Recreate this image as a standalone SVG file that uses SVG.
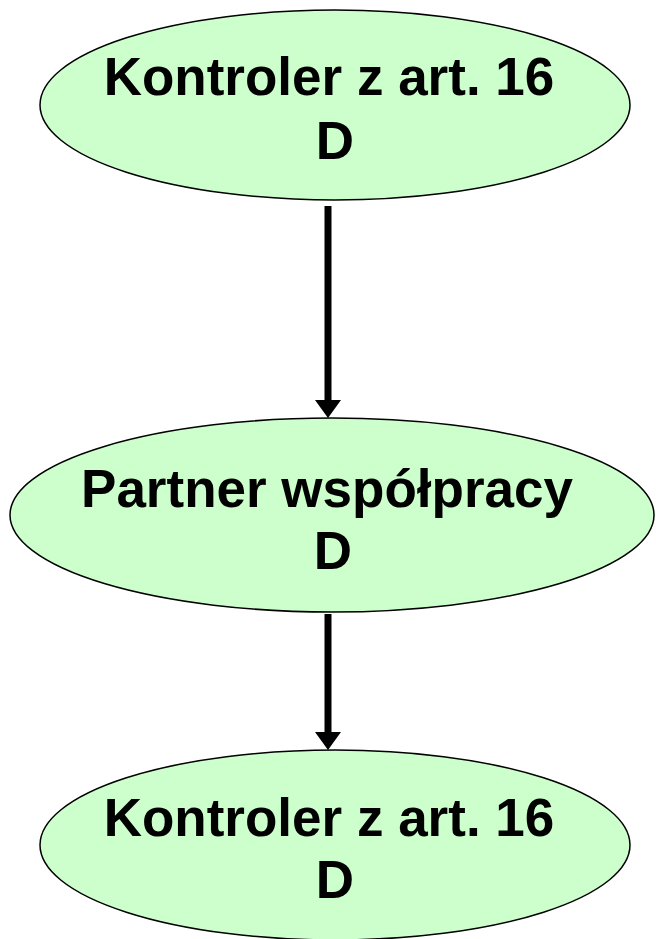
<svg xmlns="http://www.w3.org/2000/svg" width="656" height="939" viewBox="0 0 656 939">
<style>
.node ellipse{fill:#ccffcc;stroke:#000;stroke-width:1.5}
.node text{font-family:"Liberation Sans",Arial,sans-serif;font-weight:bold;font-size:53px;fill:#000;text-anchor:middle}
.edge{stroke:#000;stroke-width:7;fill:none}
.head{fill:#000}
</style>
<rect width="656" height="939" fill="#fff"/>
<g id="connectors">
<path class="edge" d="M328,206 L328,400"/>
<path class="head" d="M315,400 L341,400 L328,418 Z"/>
<path class="edge" d="M328,614 L328,732"/>
<path class="head" d="M315,732 L341,732 L328,750 Z"/>
</g>
<g id="node1" class="node">
<ellipse cx="335" cy="105" rx="295" ry="95"/>
<text x="329" y="95">Kontroler z art. 16</text>
<text x="335" y="159">D</text>
</g>
<g id="node2" class="node">
<ellipse cx="332" cy="515" rx="322" ry="97"/>
<text x="327" y="507">Partner współpracy</text>
<text x="333" y="569">D</text>
</g>
<g id="node3" class="node">
<ellipse cx="335" cy="845" rx="295" ry="95"/>
<text x="329" y="836">Kontroler z art. 16</text>
<text x="335" y="898">D</text>
</g>
</svg>
